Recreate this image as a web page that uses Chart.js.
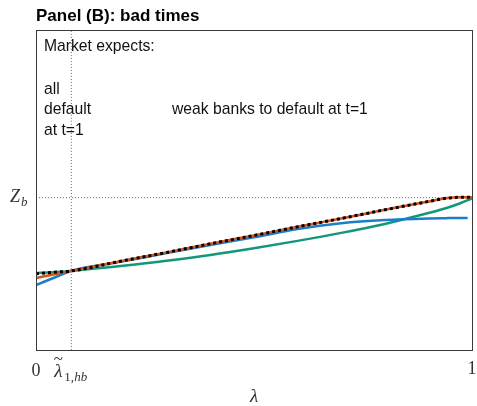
<!DOCTYPE html>
<html lang="en">
<head>
    <meta charset="UTF-8">
    <title>Panel (B): bad times</title>
    <style>
        body { margin: 0; background: #fff; }
        #chart { display: block; }
    </style>
</head>
<body>
    <canvas id="chart" width="477" height="406"></canvas>

    <script src="https://cdn.jsdelivr.net/npm/chart.js"></script>
    <script>
        // lambda grid (x) and curves (y on a 0..1 scale)
        const lam      = [0, 0.04, 0.08, 0.2, 0.3, 0.4, 0.5, 0.6, 0.7, 0.8, 0.9, 0.94, 0.97, 1];
        const blueLam  = [0, 0.04, 0.08, 0.2, 0.3, 0.4, 0.5, 0.6, 0.7, 0.8, 0.9, 0.94, 0.97, 0.99];
        const blackVals = [0.238, 0.243, 0.247, 0.279, 0.305, 0.332, 0.358, 0.385, 0.411, 0.438, 0.464, 0.474, 0.477, 0.477];
        const redVals   = [0.225, 0.236, 0.247, 0.279, 0.305, 0.332, 0.358, 0.385, 0.411, 0.438, 0.464, 0.474, 0.477, 0.477];
        const blueVals  = [0.203, 0.225, 0.247, 0.277, 0.303, 0.328, 0.352, 0.378, 0.396, 0.406, 0.411, 0.412, 0.4125, 0.4125];
        const greenVals = [0.241, 0.243, 0.247, 0.263, 0.279, 0.297, 0.318, 0.341, 0.366, 0.394, 0.428, 0.443, 0.457, 0.474];

        const lamTilde = 0.081;   // vertical dotted marker
        const Zb = 0.476;         // horizontal dotted marker

        const xyOf = (xs, ys) => xs.map((x, i) => ({ x: x, y: ys[i] }));

        const dotted = {
            borderColor: '#666',
            borderWidth: 1,
            borderDash: [1, 2],
            pointRadius: 0
        };

        // texts, box and tick labels
        const decor = {
            id: 'decor',
            afterDraw(chart) {
                const c = chart.ctx;
                const a = chart.chartArea;
                const xs = chart.scales.x, ys = chart.scales.y;
                c.save();

                c.strokeStyle = '#3a3a3a';
                c.lineWidth = 1;
                c.strokeRect(a.left + 0.5, a.top + 0.5, a.right - a.left, a.bottom - a.top);

                c.fillStyle = '#000';
                c.textBaseline = 'middle';
                c.textAlign = 'left';
                c.font = 'bold 17px "Liberation Sans", Arial, sans-serif';
                c.fillText('Panel (B): bad times', 36, 16);

                c.fillStyle = '#111';
                c.font = '15.7px "Liberation Sans", Arial, sans-serif';
                c.fillText('Market expects:', a.left + 8, 47);
                c.fillText('all', a.left + 8, 90);
                c.fillText('default', a.left + 8, 110);
                c.fillText('at t=1', a.left + 8, 131);
                c.fillText('weak banks to default at t=1', 172, 110);

                // x tick labels
                c.fillStyle = '#333';
                c.textAlign = 'center';
                c.font = '18px "Liberation Serif", "Times New Roman", serif';
                c.fillText('0', xs.getPixelForValue(0), 371);
                c.fillText('1', xs.getPixelForValue(1), 369);
                const lx = xs.getPixelForValue(lamTilde) - 13;
                c.font = 'italic 19px "Liberation Serif", serif';
                c.fillText('λ', lx, 372);
                c.font = '17px "Liberation Serif", serif';
                c.fillText('~', lx, 360);
                c.textAlign = 'left';
                c.font = '13px "Liberation Serif", serif';
                c.fillText('1,', lx + 6, 378);
                c.font = 'italic 13px "Liberation Serif", serif';
                c.fillText('hb', lx + 16, 378);

                // axis title
                c.textAlign = 'center';
                c.font = 'italic 19px "Liberation Serif", serif';
                c.fillText('λ', 254, 397);

                // y tick label
                const zy = ys.getPixelForValue(Zb);
                c.textAlign = 'left';
                c.font = 'italic 18px "Liberation Serif", serif';
                c.fillText('Z', 10, zy);
                c.font = 'italic 13px "Liberation Serif", serif';
                c.fillText('b', 21, zy + 5);

                c.restore();
            }
        };

        new Chart(document.getElementById('chart'), {
            type: 'line',
            data: {
                datasets: [
                    { data: xyOf(lam, blackVals), borderColor: '#000', borderWidth: 3, borderDash: [3, 3], pointRadius: 0 },
                    { data: xyOf(lam, redVals), borderColor: '#D95319', borderWidth: 2.5, pointRadius: 0 },
                    { data: xyOf(blueLam, blueVals), borderColor: '#1a7ec8', borderWidth: 2.5, pointRadius: 0 },
                    { data: xyOf(lam, greenVals), borderColor: '#12977a', borderWidth: 2.5, pointRadius: 0 },
                    Object.assign({ data: [{ x: 0, y: Zb }, { x: 1, y: Zb }] }, dotted),
                    Object.assign({ data: [{ x: lamTilde, y: 0 }, { x: lamTilde, y: 1 }] }, dotted)
                ]
            },
            options: {
                responsive: false,
                animation: false,
                devicePixelRatio: 1,
                cubicInterpolationMode: 'monotone',
                layout: { padding: { left: 36, right: 5, top: 30, bottom: 56 } },
                plugins: {
                    legend: { display: false },
                    tooltip: { enabled: false },
                    title: { display: false }
                },
                scales: {
                    x: { type: 'linear', min: 0, max: 1, display: false },
                    y: { type: 'linear', min: 0, max: 1, display: false }
                }
            },
            plugins: [decor]
        });
    </script>
</body>
</html>
